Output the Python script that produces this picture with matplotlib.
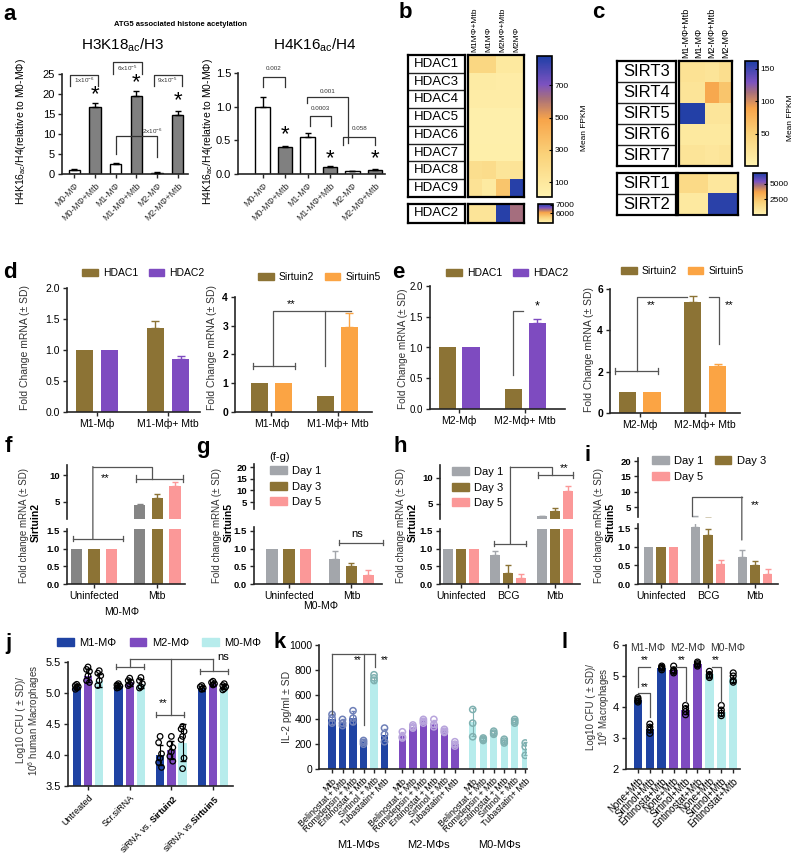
import numpy as np
import matplotlib
matplotlib.use('Agg')
import matplotlib.pyplot as plt
from matplotlib.colors import LinearSegmentedColormap
from matplotlib.patches import Patch, ConnectionPatch

plt.rcParams['font.family'] = ['Liberation Sans', 'DejaVu Sans']
plt.rcParams['mathtext.fontset'] = 'custom'
plt.rcParams['mathtext.rm'] = 'Liberation Sans'
plt.rcParams['mathtext.it'] = 'Liberation Sans:italic'
plt.rcParams['mathtext.bf'] = 'Liberation Sans:bold'

W, H = 796, 855

# ---------------- data ----------------
# a: histone acetylation
a_labels = ['M0-MΦ', 'M0-MΦ+Mtb', 'M1-MΦ', 'M1-MΦ+Mtb', 'M2-MΦ', 'M2-MΦ+Mtb']
a_h3 = [1.0, 16.7, 2.6, 19.6, 0.35, 14.8]
a_h3_err = [0.15, 1.0, 0.1, 1.2, 0.1, 1.0]
a_h4 = [1.0, 0.40, 0.55, 0.11, 0.04, 0.06]
a_h4_err = [0.14, 0.02, 0.06, 0.015, 0.005, 0.015]

# b / c: mean FPKM heatmaps
b_cols = ['M1MΦ+Mtb', 'M1MΦ', 'M2MΦ+Mtb', 'M2MΦ']
hdac_genes = ['HDAC1', 'HDAC3', 'HDAC4', 'HDAC5', 'HDAC6', 'HDAC7', 'HDAC8', 'HDAC9']
hdac_fpkm = [[230, 230, 90, 90],
             [70, 70, 60, 60],
             [60, 60, 60, 60],
             [35, 35, 35, 35],
             [35, 35, 35, 35],
             [40, 40, 40, 40],
             [170, 190, 120, 130],
             [140, 80, 330, 860]]
hdac2_gene = ['HDAC2']
hdac2_fpkm = [[5200, 5200, 7050, 6450]]
c_cols = ['M1-MΦ+Mtb', 'M1-MΦ', 'M2-MΦ+Mtb', 'M2-MΦ']
sirt_genes_a = ['SIRT3', 'SIRT4', 'SIRT5', 'SIRT6', 'SIRT7']
sirt_fpkm_a = [[25, 25, 22, 30],
               [22, 22, 85, 60],
               [160, 160, 20, 20],
               [15, 15, 15, 15],
               [22, 22, 18, 22]]
sirt_genes_b = ['SIRT1', 'SIRT2']
sirt_fpkm_b = [[1500, 1500, 700, 700],
               [600, 600, 6500, 6500]]

# d / e: qPCR
d_groups = ['M1-Mф', 'M1-Mф+ Mtb']
d_hdac1, d_hdac1_err = [1.0, 1.35], [0, 0.12]
d_hdac2, d_hdac2_err = [1.0, 0.86], [0, 0.04]
d_sirt2, d_sirt2_err = [1.0, 0.55], [0, 0]
d_sirt5, d_sirt5_err = [1.0, 2.95], [0, 0.5]
e_groups = ['M2-Mф', 'M2-Mф+ Mtb']
e_hdac1, e_hdac1_err = [1.0, 0.32], [0, 0]
e_hdac2, e_hdac2_err = [1.0, 1.40], [0, 0.06]
e_sirt2, e_sirt2_err = [1.0, 5.36], [0, 0.3]
e_sirt5, e_sirt5_err = [1.0, 2.27], [0, 0.12]

# f-i: time course
fg_groups = ['Uninfected', 'Mtb']
hi_groups = ['Uninfected', 'BCG', 'Mtb']
days = ['Day 1', 'Day 3', 'Day 5']
f_vals = [[1, 4.4], [1, 5.8], [1, 7.9]]
f_errs = [[0, 0.15], [0, 0.7], [0, 0.9]]
g_vals = [[1, 0.72], [1, 0.51], [1, 0.26]]
g_errs = [[0, 0.2], [0, 0.09], [0, 0.13]]
h_vals = [[1, 0.82, 2.6], [1, 0.31, 3.7], [1, 0.17, 7.5]]
h_errs = [[0, 0.12, 0.15], [0, 0.23, 0.6], [0, 0.1, 1.0]]
i_vals = [[1, 1.52, 0.72], [1, 1.32, 0.52], [1, 0.55, 0.27]]
i_errs = [[0, 0.4, 0.2], [0, 0.15, 0.1], [0, 0.1, 0.13]]

# j: siRNA CFU
j_groups = ['Untreated', 'Scr.siRNA', 'siRNA vs. $\\bf{Sirtuin2}$', 'siRNA vs.$\\bf{Sirtuin5}$']
j_types = ['M1-MΦ', 'M2-MΦ', 'M0-MΦ']
j_vals = [[5.1, 5.12, 4.0, 5.08], [5.28, 5.17, 4.08, 5.15], [5.2, 5.15, 4.2, 5.1]]
j_errs = [[0.04, 0.04, 0.16, 0.04], [0.1, 0.05, 0.14, 0.03], [0.1, 0.07, 0.3, 0.04]]
j_pts = [[[5.14, 5.12, 5.1, 5.08, 5.06], [5.15, 5.13, 5.11, 5.09, 5.08],
          [4.3, 4.2, 4.02, 3.95, 3.88, 3.8], [5.12, 5.1, 5.08, 5.06]],
         [[5.42, 5.38, 5.35, 5.28, 5.2, 5.17], [5.24, 5.2, 5.17, 5.14, 5.12],
          [4.3, 4.18, 4.12, 4.05, 3.98, 3.9], [5.19, 5.17, 5.15, 5.13]],
         [[5.36, 5.32, 5.28, 5.2, 5.12], [5.25, 5.2, 5.15, 5.1, 5.08],
          [4.46, 4.42, 4.38, 4.3, 4.25, 3.95, 3.78], [5.15, 5.12, 5.1, 5.07, 5.05]]]

# k: IL-2
k_treat = ['Mtb', 'Belinostat + Mtb', 'Romidepsin + Mtb', 'Entinostat + Mtb',
           'Sirtinol + Mtb', 'Tubastatin+ Mtb']
k_groups = ['M1-MΦs', 'M2-MΦs', 'M0-MΦs']
k_vals = [[400, 375, 415, 215, 720, 275],
          [270, 340, 385, 365, 305, 200],
          [380, 240, 290, 220, 380, 165]]
k_errs = [[40, 30, 50, 15, 25, 50],
          [30, 15, 15, 30, 10, 15],
          [110, 10, 15, 15, 20, 50]]
k_pts = [[[440, 410, 370], [400, 370, 350], [470, 410, 380], [230, 215, 200], [760, 735, 715], [330, 280, 220]],
         [[300, 260, 250], [355, 340, 330], [400, 385, 370], [400, 360, 340], [320, 305, 295], [220, 200, 185]],
         [[480, 370, 260], [250, 240, 230], [305, 290, 280], [240, 225, 210], [400, 385, 370], [210, 180, 110]]]

# l: inhibitors CFU
l_treat = ['None+Mtb', 'Sirtinol+Mtb', 'Entinosta+Mtb', 'None+Mtb', 'Sirtinol+Mtb',
           'Entinostat+Mtb', 'None+Mtb', 'Sirtinol+Mtb', 'Entinostat+Mtb']
l_vals = [4.22, 3.3, 5.27, 5.2, 3.9, 5.38, 5.05, 3.85, 4.92]
l_errs = [0.06, 0.12, 0.05, 0.1, 0.13, 0.05, 0.08, 0.13, 0.12]
l_pts = [[4.3, 4.25, 4.2, 4.16], [3.45, 3.35, 3.25, 3.15], [5.32, 5.28, 5.25, 5.2],
         [5.32, 5.2, 5.15, 5.1], [4.05, 3.95, 3.85, 3.75], [5.45, 5.4, 5.36, 5.32],
         [5.15, 5.05, 5.0, 4.95], [4.05, 3.9, 3.8, 3.72], [5.1, 5.0, 4.85, 4.8]]
l_types = ['M1-MΦ', 'M2-MΦ', 'M0-MΦ']

# colours
BROWN = '#8c7335'
PURPLE = '#7e4bc0'
ORANGE = '#fba444'
GRAY = '#a3a6ab'
DGRAY = '#858585'
PINK = '#fb9898'
BLUE = '#1f43a3'
CYAN = '#b7ecec'
LINE = '#555555'
fpkm_cmap = LinearSegmentedColormap.from_list(
    'fpkm', [(0, '#fff3b0'), (0.3, '#fad27a'), (0.55, '#f7a44a'),
             (0.7, '#a8707a'), (0.8, '#7c52c0'), (1.0, '#1e3fa6')])

fig = plt.figure(figsize=(W / 100, H / 100), dpi=100)


# ---------------- helpers ----------------
def add_ax(x0, y0, x1, y1):
    return fig.add_axes([x0 / W, 1 - y1 / H, (x1 - x0) / W, (y1 - y0) / H])


def ftext(x, y, s, **kw):
    fig.text(x / W, 1 - y / H, s, **kw)


def clean(ax, lw=1.2):
    for s in ('top', 'right'):
        ax.spines[s].set_visible(False)
    for s in ('left', 'bottom'):
        ax.spines[s].set_linewidth(lw)
        ax.spines[s].set_color('#262626')
    ax.tick_params(length=3, width=1, labelsize=7, pad=2, color='#262626')


def set_yt(ax, ticks, labels=None, bold=False, fs=7):
    ax.set_yticks(ticks)
    ax.set_yticklabels(labels if labels else [str(t) for t in ticks], fontsize=fs,
                       fontweight='bold' if bold else 'normal')


def bracket(ax, xs, ys, color=LINE, lw=0.9):
    ax.plot(xs, ys, color=color, lw=lw, clip_on=False, zorder=6)


def capline(ax, x0, x1, y, h, color=LINE):
    bracket(ax, [x0, x1], [y, y], color)
    bracket(ax, [x0, x0], [y - h, y + h], color)
    bracket(ax, [x1, x1], [y - h, y + h], color)


def link(ax_a, xy_a, ax_b, xy_b, color=LINE, lw=0.9):
    fig.add_artist(ConnectionPatch(xyA=xy_a, coordsA=ax_a.transData, xyB=xy_b,
                                   coordsB=ax_b.transData, color=color, lw=lw, zorder=6))


def upper_err(ax, x, vals, errs, color, capsize=2.5, lw=1):
    x = np.asarray(x, float)
    vals = np.asarray(vals, float)
    errs = np.asarray(errs, float)
    m = errs > 0
    if m.any():
        ax.errorbar(x[m], vals[m], yerr=[np.zeros(m.sum()), errs[m]], fmt='none',
                    ecolor=color, elinewidth=lw, capsize=capsize, capthick=lw, zorder=3)


def legend(handles, labels, x, y, ncol=1, loc='upper left', **kw):
    opts = dict(frameon=False, borderpad=0, borderaxespad=0, handlelength=1.5,
                handleheight=0.75, handletextpad=0.5, labelspacing=0.35,
                columnspacing=1.0, fontsize=7.5)
    opts.update(kw)
    fig.legend(handles, labels, loc=loc, bbox_to_anchor=(x / W, 1 - y / H), ncol=ncol, **opts)


def letter(x, y, s):
    ftext(x, y, s, fontsize=16, fontweight='bold', ha='center', va='center')


# ---------------- panel a ----------------
letter(10, 14, 'a')
ftext(181, 24, 'ATG5 associated histone acetylation', fontsize=5.5, fontweight='bold', ha='center', va='center')
a_fill = ['white', '#808080'] * 3
ylab_a = 'H4K16$_{\\mathrm{ac}}$/H4(relative to M0-MΦ)'


def panel_a(box, vals, errs, ylim, ticks, tlabels, width, xlim):
    ax = add_ax(*box)
    clean(ax)
    x = np.arange(len(vals))
    ax.bar(x, vals, width, color=a_fill, edgecolor='black', lw=1, zorder=2)
    upper_err(ax, x, vals, errs, 'black')
    ax.set_xlim(*xlim)
    ax.set_ylim(*ylim)
    ax.set_xticks(x)
    ax.set_xticklabels(a_labels, rotation=45, ha='right', rotation_mode='anchor', fontsize=6.3, color='#333333')
    set_yt(ax, ticks, tlabels, fs=8)
    return ax


ax = panel_a((62, 74, 188, 174), a_h3, a_h3_err, (0, 25), [0, 5, 10, 15, 20, 25], None, 0.55, (-0.6, 5.5))
ftext(123, 45, 'H3K18$_{\\mathrm{ac}}$/H3', fontsize=11, ha='center', va='center')
ftext(21, 132, ylab_a, fontsize=7.5, rotation=90, ha='center', va='center')
txt = dict(fontsize=4.5, ha='center', va='center', color='#333333')
bracket(ax, [-0.2, -0.2, 1.15, 1.15], [22, 24.75, 24.75, 22], color='#333333')
ax.text(0.47, 23.5, '1x10$^{-6}$', **txt)
bracket(ax, [1.85, 1.85, 3.28, 3.28], [25, 28, 28, 25], color='#333333')
ax.text(2.55, 26.5, '6x10$^{-5}$', **txt)
bracket(ax, [3.84, 3.84, 5.2, 5.2], [22, 24.75, 24.75, 22], color='#333333')
ax.text(4.5, 23.5, '9x10$^{-5}$', **txt)
bracket(ax, [2.0, 2.0, 4.0, 4.0], [5, 9.5, 9.5, 4.25], color='#333333')
ax.text(3.75, 10.6, '2x10$^{-6}$', **txt)
for xi, yi in zip([1, 3, 5], [19.8, 22.9, 18.3]):
    ax.text(xi, yi, '*', fontsize=16, ha='center', va='center')

ax = panel_a((238, 73, 385, 174), a_h4, a_h4_err, (0, 1.5), [0, 0.5, 1.0, 1.5],
             ['0.0', '0.5', '1.0', '1.5'], 0.65, (-1.1, 5.45))
ftext(315, 45, 'H4K16$_{\\mathrm{ac}}$/H4', fontsize=11, ha='center', va='center')
ftext(208, 132, ylab_a, fontsize=7.5, rotation=90, ha='center', va='center')
bracket(ax, [0, 0, 1, 1], [1.29, 1.44, 1.44, 1.29], color='#333333')
ax.text(0.5, 1.56, '0.002', **txt)
bracket(ax, [1.96, 1.96, 3.8, 3.8], [1.05, 1.14, 1.14, 0.46], color='#333333')
ax.text(2.9, 1.23, '0.001', **txt)
bracket(ax, [2.1, 2.1, 3.05, 3.05], [0.71, 0.86, 0.86, 0.71], color='#333333')
ax.text(2.55, 0.98, '0.0003', **txt)
bracket(ax, [3.6, 3.6, 5.0, 5.0], [0.43, 0.55, 0.55, 0.43], color='#333333')
ax.text(4.3, 0.68, '0.058', **txt)
for xi, yi in zip([1, 3, 5], [0.58, 0.23, 0.23]):
    ax.text(xi, yi, '*', fontsize=16, ha='center', va='center')


# ---------------- panels b / c ----------------
def heat(lab_box, map_box, cb_box, genes, vals, cols, vmin, vmax, ticks, lab_fs, col_fs):
    axl = add_ax(*lab_box)
    axl.set_xlim(0, 1)
    axl.set_ylim(len(genes), 0)
    for i, g in enumerate(genes):
        axl.text(0.5, i + 0.5, g, ha='center', va='center', fontsize=lab_fs)
    for i in range(1, len(genes)):
        axl.axhline(i, color='#222222', lw=1)
    axl.set_xticks([])
    axl.set_yticks([])
    for s in axl.spines.values():
        s.set_linewidth(1.6)
    axm = add_ax(*map_box)
    im = axm.imshow(vals, cmap=fpkm_cmap, vmin=vmin, vmax=vmax, aspect='auto', interpolation='nearest')
    axm.set_yticks([])
    if cols:
        axm.xaxis.tick_top()
        axm.set_xticks(range(len(cols)))
        axm.set_xticklabels(cols, rotation=90, fontsize=col_fs)
        axm.tick_params(length=0, pad=2)
    else:
        axm.set_xticks([])
    for s in axm.spines.values():
        s.set_linewidth(1.6)
    cax = add_ax(*cb_box)
    cb = fig.colorbar(im, cax=cax, ticks=ticks)
    cb.ax.tick_params(labelsize=6, length=2, width=0.8, direction='in', pad=2)
    cb.outline.set_linewidth(1.2)


letter(405, 12, 'b')
heat((408, 55, 465, 197), (468, 55, 524, 197), (537, 56, 552, 197), hdac_genes, hdac_fpkm,
     b_cols, 10, 880, [100, 300, 500, 700], 9.5, 6)
heat((408, 204, 465, 223), (468, 204, 524, 223), (538, 204, 553, 223), hdac2_gene, hdac2_fpkm,
     None, 4900, 7100, [6000, 7000], 9.5, 6)
ftext(585, 128, 'Mean FPKM', fontsize=6, rotation=90, ha='center', va='center')

letter(598, 12, 'c')
heat((617, 61, 676, 166), (679, 61, 732, 166), (745, 61, 758, 166), sirt_genes_a, sirt_fpkm_a,
     c_cols, 0, 162, [50, 100, 150], 12, 6.5)
heat((617, 173, 676, 215), (678, 173, 738, 215), (753, 173, 767, 215), sirt_genes_b, sirt_fpkm_b,
     None, 0, 6700, [2500, 5000], 12, 6.5)
ftext(790, 118, 'Mean FPKM', fontsize=6, rotation=90, ha='center', va='center')


# ---------------- panels d / e ----------------
def pcr(box, groups, series, errs, colors, off, width, xlim, ylim, ticks, tlabels, bold, tfs=7.5):
    ax = add_ax(*box)
    clean(ax)
    for vals, err, col, o in zip(series, errs, colors, off):
        x = np.arange(len(vals)) + o
        ax.bar(x, vals, width, color=col, zorder=2)
        upper_err(ax, x, vals, err, col, capsize=3)
    ax.set_xlim(*xlim)
    ax.set_ylim(*ylim)
    ax.set_xticks(range(len(groups)))
    ax.set_xticklabels(groups, fontsize=7.5)
    set_yt(ax, ticks, tlabels, bold=bold, fs=tfs)
    return ax


ylab_fc = 'Fold Change mRNA (± SD)'
letter(10, 272, 'd')
ax = pcr((67, 288, 200, 412), d_groups, [d_hdac1, d_hdac2], [d_hdac1_err, d_hdac2_err],
         [BROWN, PURPLE], [-0.18, 0.18], 0.24, (-0.42, 1.45), (0, 2), [0, 0.5, 1.0, 1.5, 2.0],
         ['0.0', '0.5', '1.0', '1.5', '2.0'], False)
ftext(25, 347, ylab_fc, fontsize=7.5, rotation=90, ha='center', va='center', color='#333333')
legend([Patch(color=BROWN), Patch(color=PURPLE)], ['HDAC1', 'HDAC2'], 82, 273, ncol=2, loc='center left')

ax = pcr((235, 297, 372, 412), d_groups, [d_sirt2, d_sirt5], [d_sirt2_err, d_sirt5_err],
         [BROWN, ORANGE], [-0.18, 0.18], 0.26, (-0.55, 1.52), (0, 4), [0, 1, 2, 3, 4], None, True)
ftext(212, 347, ylab_fc, fontsize=7.5, rotation=90, ha='center', va='center', color='#333333')
legend([Patch(color=BROWN), Patch(color=ORANGE)], ['Sirtuin2', 'Sirtuin5'], 258, 277, ncol=2, loc='center left')
capline(ax, -0.28, 0.36, 1.6, 0.1)
bracket(ax, [0.02, 0.02, 1.2], [1.6, 3.5, 3.5])
bracket(ax, [0.81, 0.81], [3.5, 1.6])
ax.text(0.3, 3.75, '**', fontsize=8, ha='center', va='center')

letter(398, 272, 'e')
ax = pcr((430, 286, 565, 409), e_groups, [e_hdac1, e_hdac2], [e_hdac1_err, e_hdac2_err],
         [BROWN, PURPLE], [-0.18, 0.18], 0.26, (-0.44, 1.6), (0, 2), [0, 0.5, 1.0, 1.5, 2.0],
         ['0.0', '0.5', '1.0', '1.5', '2.0'], False, tfs=7)
ftext(403, 349, ylab_fc, fontsize=7.2, rotation=90, ha='center', va='center', color='#333333')
legend([Patch(color=BROWN), Patch(color=PURPLE)], ['HDAC1', 'HDAC2'], 446, 273, ncol=2, loc='center left')
bracket(ax, [0.82, 0.82, 0.97], [0.55, 1.6, 1.6])
ax.text(1.18, 1.66, '*', fontsize=9, ha='center', va='center')

ax = pcr((610, 289, 740, 413), e_groups, [e_sirt2, e_sirt5], [e_sirt2_err, e_sirt5_err],
         [BROWN, ORANGE], [-0.19, 0.19], 0.26, (-0.45, 1.53), (0, 6), [0, 2, 4, 6], None, True)
ftext(589, 350, ylab_fc, fontsize=7.5, rotation=90, ha='center', va='center', color='#333333')
legend([Patch(color=BROWN), Patch(color=ORANGE)], ['Sirtuin2', 'Sirtuin5'], 621, 271, ncol=2, loc='center left')
capline(ax, -0.37, 0.28, 2.03, 0.15)
bracket(ax, [-0.04, -0.04, 0.72], [2.03, 5.6, 5.6])
ax.text(0.18, 5.2, '**', fontsize=8, ha='center', va='center')
bracket(ax, [1.06, 1.21, 1.21], [5.6, 5.6, 3.33])
ax.text(1.36, 5.2, '**', fontsize=8, ha='center', va='center')


# ---------------- panels f-i ----------------
def broken(x0, x1, up_y, low_y, up_lim, low_lim, xlim, up_ticks, groups, series, errs, colors, off, width):
    up = add_ax(x0, up_y[0], x1, up_y[1])
    low = add_ax(x0, low_y[0], x1, low_y[1])
    for a in (up, low):
        clean(a)
        a.set_xlim(*xlim)
        for vals, err, col, o in zip(series, errs, colors, off):
            x = np.arange(len(vals)) + o
            a.bar(x, vals, width, color=col, zorder=2)
            upper_err(a, x, vals, err, col, capsize=2.5)
    up.spines['bottom'].set_visible(False)
    up.set_xticks([])
    up.set_ylim(*up_lim)
    low.set_ylim(*low_lim)
    set_yt(up, up_ticks, bold=True, fs=6.8)
    set_yt(low, [0, 0.5, 1.0, 1.5], ['0.0', '0.5', '1.0', '1.5'], bold=True, fs=6.8)
    low.set_xticks(range(len(groups)))
    low.set_xticklabels(groups, fontsize=7.5)
    return up, low


def ylab2(x, y, gene):
    ftext(x, y, 'Fold change mRNA (± SD)', fontsize=7, rotation=90, ha='center', va='center', color='#333333')
    ftext(x + 12, y - 2, gene, fontsize=7.5, fontweight='bold', rotation=90, ha='center', va='center')


day_handles = [Patch(color=GRAY), Patch(color=BROWN), Patch(color=PINK)]

letter(8, 447, 'f')
up, low = broken(67, 185, (465, 519), (529, 584), (1.7, 12), (0, 1.55), (-0.43, 1.44), [5, 10],
                 fg_groups, f_vals, f_errs, [DGRAY, BROWN, PINK], [-0.28, 0, 0.28], 0.18)
ylab2(24, 525, 'Sirtuin2')
ftext(122, 612, 'M0-MΦ', fontsize=7.5, ha='center', va='center')
capline(low, -0.33, 0.46, 1.27, 0.07)
capline(up, 0.67, 1.41, 9.4, 0.6)
link(low, (-0.02, 1.27), up, (-0.02, 11.7))
bracket(up, [-0.02, 0.92, 0.92], [11.7, 11.7, 9.4])
up.text(0.17, 9.5, '**', fontsize=8, ha='center', va='center')

letter(203, 447, 'g')
up, low = broken(254, 382, (464, 509), (527, 584), (2, 21.3), (0, 1.61), (-0.56, 1.49), [5, 10, 15, 20],
                 fg_groups, g_vals, g_errs, [GRAY, BROWN, PINK], [-0.27, 0, 0.27], 0.18)
ylab2(217, 525, 'Sirtuin5')
ftext(321, 606, 'M0-MΦ', fontsize=7.5, ha='center', va='center')
ftext(280, 457, '(f-g)', fontsize=8, ha='center', va='center')
legend(day_handles, days, 270, 466, labelspacing=0.5, fontsize=8)
capline(low, 0.8, 1.5, 1.16, 0.07)
low.text(1.1, 1.42, 'ns', fontsize=8, ha='center', va='center')

letter(400, 447, 'h')
up, low = broken(440, 580, (465, 519), (529, 584), (2.1, 12.5), (0, 1.55), (-0.45, 2.53), [5, 10],
                 hi_groups, h_vals, h_errs, [GRAY, BROWN, PINK], [-0.28, 0, 0.28], 0.21)
ylab2(401, 525, 'Sirtuin2')
legend(day_handles, days, 452, 467, labelspacing=0.5, fontsize=8)
capline(low, 0.71, 1.39, 1.13, 0.07)
capline(up, 1.64, 2.38, 10.6, 0.6)
link(low, (1.05, 1.13), up, (1.05, 12.1))
bracket(up, [1.05, 1.94, 1.94], [12.1, 12.1, 10.6])
up.text(2.19, 11.9, '**', fontsize=8, ha='center', va='center')

letter(588, 455, 'i')
up, low = broken(638, 778, (458, 517), (524, 584), (1.75, 21), (0, 1.61), (-0.49, 2.49), [5, 10, 15, 20],
                 hi_groups, i_vals, i_errs, [GRAY, BROWN, PINK], [-0.27, 0, 0.27], 0.2)
ylab2(599, 525, 'Sirtuin5')
legend([day_handles[0], day_handles[2], day_handles[1]], ['Day 1', 'Day 5', 'Day 3'], 652, 456, ncol=2,
       labelspacing=0.5, columnspacing=1.0, fontsize=8)
bracket(up, [0.67, 0.67, 1.72], [2.1, 8.3, 8.3])
link(up, (1.72, 8.3), low, (1.72, 1.18))
up.text(2.0, 5.7, '**', fontsize=8, ha='center', va='center')


# ---------------- panel j ----------------
letter(8, 643, 'j')
ax = add_ax(68, 662, 233, 786)
clean(ax)
jit = np.array([0.0, -0.035, 0.035, 0.0, -0.035, 0.035, 0.0])
for vals, err, pts, col, off in zip(j_vals, j_errs, j_pts, [BLUE, PURPLE, CYAN], [-0.27, 0, 0.27]):
    x = np.arange(len(vals)) + off
    ax.bar(x, vals, 0.2, color=col, zorder=2)
    ax.errorbar(x, vals, yerr=err, fmt='none', ecolor='black', elinewidth=0.8, capsize=2, zorder=4)
    for xi, p in zip(x, pts):
        ax.scatter(xi + jit[:len(p)], p, s=16, facecolors='none', edgecolors='black', lw=0.9, zorder=5)
ax.set_xlim(-0.48, 3.48)
ax.set_ylim(3.5, 5.5)
set_yt(ax, [3.5, 4.0, 4.5, 5.0, 5.5], fs=8)
ax.set_xticks(range(4))
ax.set_xticklabels(j_groups, rotation=45, ha='right', rotation_mode='anchor', fontsize=6.5)
ftext(29, 720, 'Log10 CFU ( ± SD)/\n10$^6$ human Macrophages', fontsize=7, rotation=90,
      ha='center', va='center', color='#333333', linespacing=1.1)
legend([Patch(color=c) for c in (BLUE, PURPLE, CYAN)], j_types, 57, 643, ncol=3, loc='center left',
       columnspacing=1.2, fontsize=8)
capline(ax, 0.67, 1.34, 5.42, 0.04)
capline(ax, 1.63, 2.3, 4.65, 0.04)
capline(ax, 2.69, 3.36, 5.35, 0.04)
bracket(ax, [1.0, 3.0], [5.55, 5.55])
bracket(ax, [1.0, 1.0], [5.55, 5.42])
bracket(ax, [2.0, 2.0], [5.55, 4.65])
bracket(ax, [3.0, 3.0], [5.55, 5.35])
ax.text(1.8, 4.84, '**', fontsize=8, ha='center', va='center')
ax.text(3.1, 5.58, 'ns', fontsize=8, ha='left', va='center')


# ---------------- panel k ----------------
letter(280, 643, 'k')
ax = add_ax(319, 645, 527, 769)
clean(ax)
k_cols = [[BLUE, BLUE, BLUE, BLUE, CYAN, BLUE], [PURPLE] * 6, [CYAN] * 6]
k_edge = {BLUE: '#6f80b8', PURPLE: '#b8a4dc', CYAN: '#7fb0b0'}
k_start = [0, 6.7, 13.4]
k_pos = []
for g, (vals, err, pts, cols) in enumerate(zip(k_vals, k_errs, k_pts, k_cols)):
    x = np.arange(len(vals)) + k_start[g]
    k_pos.extend(x)
    ax.bar(x, vals, 0.7, color=cols, zorder=2)
    for xi, v, e, p, c in zip(x, vals, err, pts, cols):
        ax.errorbar([xi], [v], yerr=[e], fmt='none', ecolor=k_edge[c], elinewidth=0.8, capsize=1.5, zorder=4)
        ax.scatter(np.full(len(p), xi), p, s=20, facecolors='none', edgecolors=k_edge[c], lw=1.1, zorder=5)
    ax.text(k_start[g] + 2.5, -0.61, k_groups[g], transform=ax.get_xaxis_transform(),
            fontsize=8, ha='center', va='center')
ax.set_xlim(-1.24, 18.57)
ax.set_ylim(0, 1000)
set_yt(ax, [0, 200, 400, 600, 800, 1000], fs=7.5)
ax.set_xticks(k_pos)
ax.set_xticklabels(k_treat * 3, rotation=45, ha='right', rotation_mode='anchor', fontsize=6.5)
ftext(287, 707, 'IL-2 pg/ml ± SD', fontsize=7.5, rotation=90, ha='center', va='center', color='#333333')
bracket(ax, [0, 4.1], [927, 927])
bracket(ax, [0, 0], [927, 440])
bracket(ax, [3, 3], [927, 355])
bracket(ax, [4.1, 4.1], [927, 820])
ax.text(2.4, 880, '**', fontsize=7, ha='center', va='center')
ax.text(5.05, 880, '**', fontsize=7, ha='center', va='center')


# ---------------- panel l ----------------
letter(565, 643, 'l')
ax = add_ax(626, 645, 740, 769)
clean(ax)
l_cols = [BLUE] * 3 + [PURPLE] * 3 + [CYAN] * 3
x = np.arange(len(l_vals))
ax.bar(x, l_vals, 0.72, color=l_cols, zorder=2)
ax.errorbar(x, l_vals, yerr=l_errs, fmt='none', ecolor='black', elinewidth=0.8, capsize=1.5, zorder=4)
for xi, p in zip(x, l_pts):
    ax.scatter(np.full(len(p), xi), p, s=18, facecolors='none', edgecolors='black', lw=0.9, zorder=5)
ax.set_xlim(-1.0, 8.57)
ax.set_ylim(2, 6)
set_yt(ax, [2, 3, 4, 5, 6], fs=8)
ax.set_xticks(x)
ax.set_xticklabels(l_treat, rotation=45, ha='right', rotation_mode='anchor', fontsize=7)
for xi, t in zip([0.85, 4.2, 7.5], l_types):
    ax.text(xi, 5.9, t, fontsize=7.5, ha='center', va='center', color='#333333')
ftext(599, 707, 'Log10 CFU ( ± SD)/\n10$^6$ Macrophages', fontsize=7, rotation=90,
      ha='center', va='center', color='#333333', linespacing=1.1)
bracket(ax, [0, 0, 1], [4.65, 5.29, 5.29])
ax.text(0.55, 5.5, '**', fontsize=7, ha='center', va='center')
bracket(ax, [0, 1, 1], [4.45, 4.45, 3.68])
ax.text(0.55, 4.65, '**', fontsize=7, ha='center', va='center')
bracket(ax, [3.2, 4, 4], [5.29, 5.29, 4.15])
ax.text(3.7, 5.5, '**', fontsize=7, ha='center', va='center')
bracket(ax, [6.2, 7, 7], [5.29, 5.29, 4.15])
ax.text(6.55, 5.5, '**', fontsize=7, ha='center', va='center')

fig.savefig('out.png', dpi=100)
